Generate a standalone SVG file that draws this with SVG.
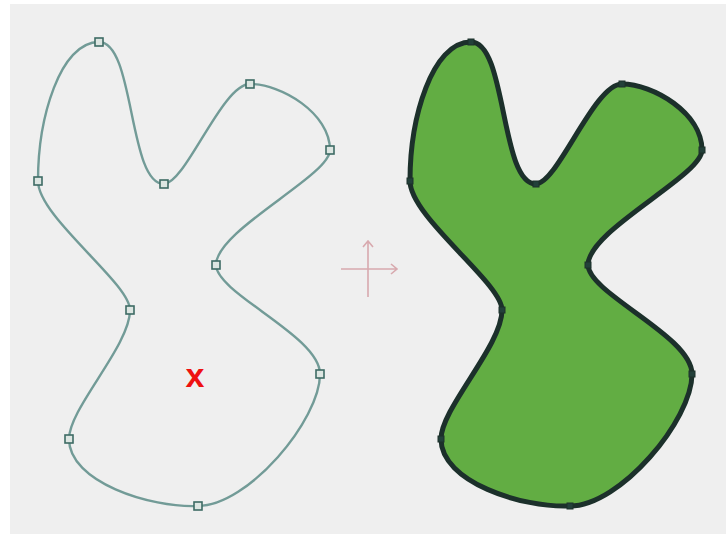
<svg xmlns="http://www.w3.org/2000/svg" width="726" height="538" viewBox="0 0 726 538">
<defs>
<style>
.outline{fill:none;stroke:#729b97;stroke-width:2.4}
.filled{fill:#62ad43;stroke:#1c302b;stroke-width:5;stroke-linejoin:round}
.hl{fill:#dde6e2;stroke:#3e6b64;stroke-width:1.6}
.hr{fill:#23403a;stroke:#1c302b;stroke-width:1}
.axis{fill:none;stroke:#d8a9ae;stroke-width:1.6}
</style>
<path id="blob" d="M99,42 C135,42 128,184 164,184 C186,183 222,84 250,84 C281,84 330,113 330,150 C330,176 216,230 216,265 C217,294 320,336 320,374 C320,420 248,506 198,506 C150,508 69,482 69,439 C69,408 130,346 130,310 C130,283 38,217 38,181 C38,118 60,42 99,42 Z"/>
<rect id="hs" x="-4" y="-4" width="8" height="8" class="hl"/>
<rect id="hd" x="-3" y="-3" width="6" height="6" class="hr"/>
</defs>
<rect x="0" y="0" width="726" height="538" fill="#ffffff"/>
<rect x="10" y="4" width="716" height="530" fill="#efefef"/>
<g id="outline-shape">
<use href="#blob" class="outline"/>
<use href="#hs" x="99" y="42"/>
<use href="#hs" x="164" y="184"/>
<use href="#hs" x="250" y="84"/>
<use href="#hs" x="330" y="150"/>
<use href="#hs" x="216" y="265"/>
<use href="#hs" x="320" y="374"/>
<use href="#hs" x="198" y="506"/>
<use href="#hs" x="69" y="439"/>
<use href="#hs" x="130" y="310"/>
<use href="#hs" x="38" y="181"/>
</g>
<g id="center-mark">
<text x="195" y="387" font-family="Liberation Sans, Arial, sans-serif" font-size="34" font-weight="bold" fill="#ee1111" text-anchor="middle">x</text>
</g>
<g id="axes">
<path class="axis" d="M368,297 V241 M363,247 L368,241 L373,247 M341,269 H397 M391,264 L397,269 L391,274"/>
</g>
<g id="filled-shape" transform="translate(372,0)">
<use href="#blob" class="filled"/>
<use href="#hd" x="99" y="42"/>
<use href="#hd" x="164" y="184"/>
<use href="#hd" x="250" y="84"/>
<use href="#hd" x="330" y="150"/>
<use href="#hd" x="216" y="265"/>
<use href="#hd" x="320" y="374"/>
<use href="#hd" x="198" y="506"/>
<use href="#hd" x="69" y="439"/>
<use href="#hd" x="130" y="310"/>
<use href="#hd" x="38" y="181"/>
</g>
</svg>
